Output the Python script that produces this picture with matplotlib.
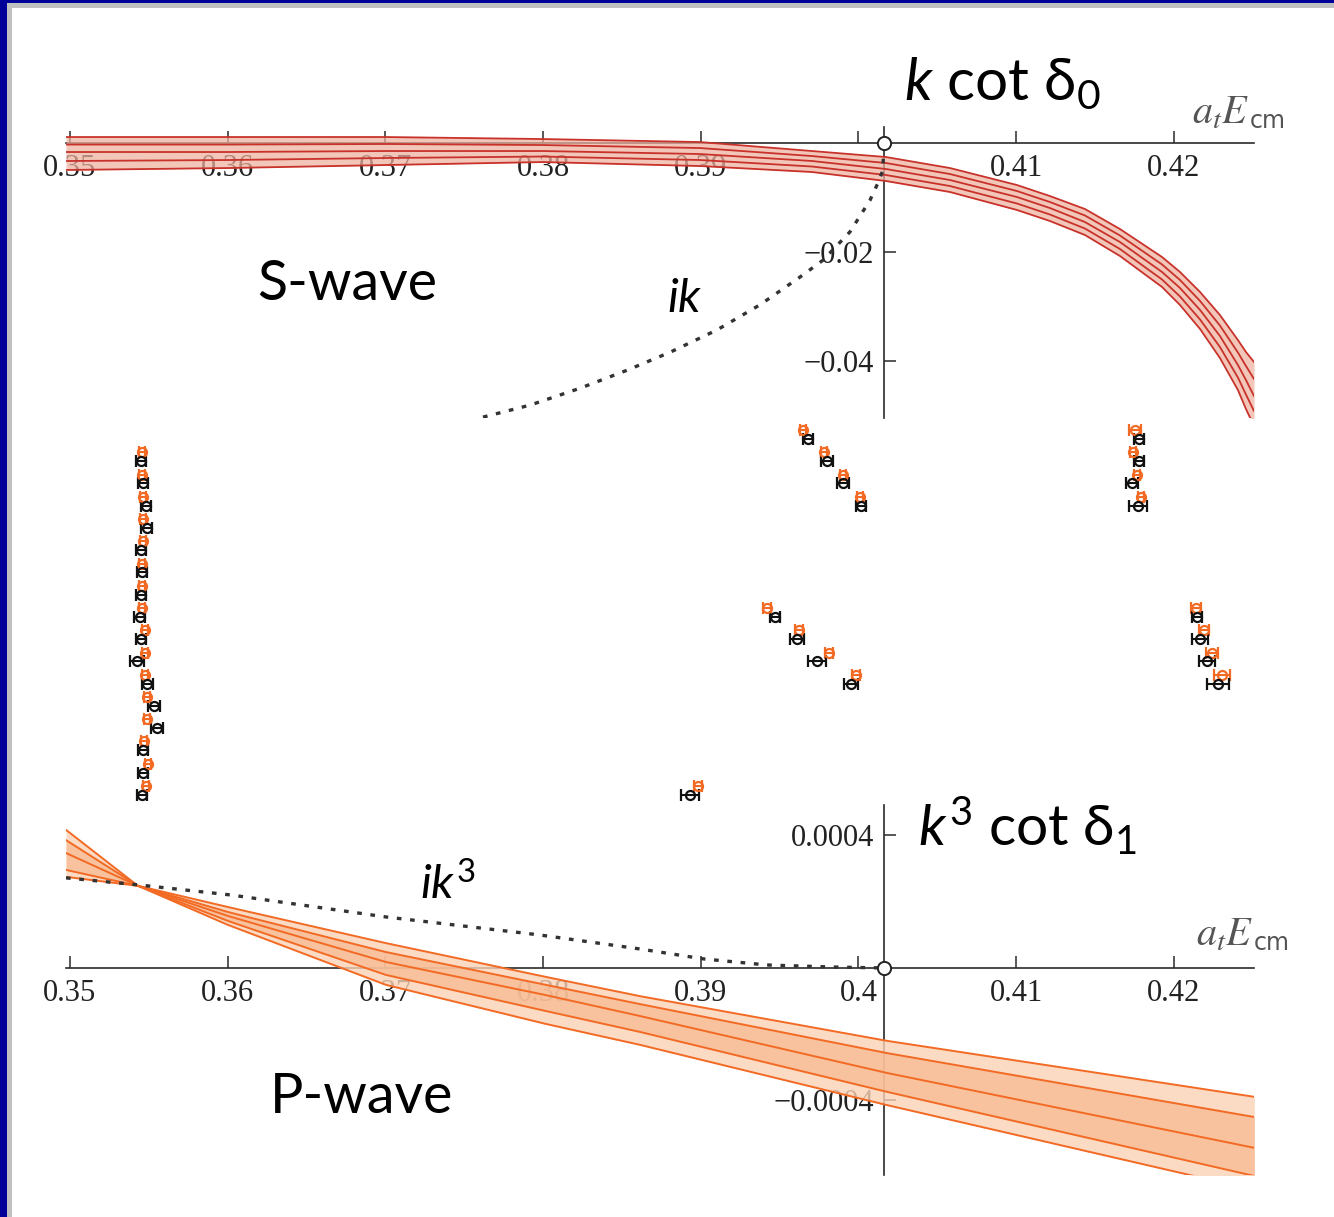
import numpy as np
import matplotlib
matplotlib.use("Agg")
import matplotlib.pyplot as plt
from matplotlib.patches import Rectangle

plt.rcParams['font.family'] = ['Liberation Serif', 'DejaVu Serif']
plt.rcParams['mathtext.fontset'] = 'custom'
plt.rcParams['mathtext.rm'] = 'Lato'
plt.rcParams['mathtext.it'] = 'Lato:italic'
plt.rcParams['mathtext.fallback'] = 'stixsans'

# ---- data ----
e_threshold = 0.4016
x_ticks = [0.35, 0.36, 0.37, 0.38, 0.39, 0.40, 0.41, 0.42]
x_labels_s = ['0.35', '0.36', '0.37', '0.38', '0.39', '', '0.41', '0.42']
x_labels_p = ['0.35', '0.36', '0.37', '0.38', '0.39', '0.4', '0.41', '0.42']
s_yticks = [-0.02, -0.04]
s_ylabels = ['\u22120.02', '\u22120.04']
p_yticks = [0.0004, -0.0004]
p_ylabels = ['0.0004', '\u22120.0004']

# S-wave k cot delta_0 band (five curves)
s_energy = [0.34975, 0.36002, 0.37004, 0.37999, 0.38995, 0.39705, 0.40174, 0.40580, 0.41005, 0.41214,
            0.41436, 0.41658, 0.41925, 0.42039, 0.42166, 0.42292, 0.42406, 0.42457, 0.42508]
s_edge_hi = [0.00110, 0.00110, 0.00110, 0.00073, 0.00018, -0.00147, -0.00257, -0.00459, -0.00771, -0.00973,
             -0.01211, -0.01578, -0.02092, -0.02367, -0.02734, -0.03156, -0.03615, -0.03835, -0.04018]
s_inner_hi = [-0.00028, -0.00028, -0.00018, -0.00037, -0.00092, -0.00239, -0.00367, -0.00569, -0.00881, -0.01083,
              -0.01330, -0.01697, -0.02229, -0.02514, -0.02899, -0.03349, -0.03844, -0.04092, -0.04330]
s_center = [-0.00165, -0.00165, -0.00147, -0.00147, -0.00202, -0.00330, -0.00477, -0.00679, -0.00991, -0.01193,
            -0.01450, -0.01817, -0.02367, -0.02661, -0.03064, -0.03541, -0.04073, -0.04349, -0.04642]
s_inner_lo = [-0.00330, -0.00312, -0.00275, -0.00248, -0.00312, -0.00431, -0.00587, -0.00789, -0.01110, -0.01312,
              -0.01569, -0.01945, -0.02505, -0.02817, -0.03239, -0.03743, -0.04303, -0.04615, -0.04918]
s_edge_lo = [-0.00495, -0.00459, -0.00404, -0.00349, -0.00422, -0.00532, -0.00697, -0.00899, -0.01229, -0.01431,
             -0.01688, -0.02073, -0.02642, -0.02973, -0.03413, -0.03945, -0.04532, -0.04881, -0.05193]

# ik below threshold
ik_energy = [0.37619, 0.37917, 0.38234, 0.38532, 0.38805, 0.39103, 0.39375, 0.39629, 0.39775, 0.39946,
             0.40073, 0.40124, 0.40155, 0.4016]
ik_value = [-0.0503, -0.0481, -0.0450, -0.0417, -0.0384, -0.0343, -0.0297, -0.0246, -0.0215, -0.0163,
            -0.0105, -0.0073, -0.0050, 0.0]

# P-wave k^3 cot delta_1 band
p_energy = [0.34975, 0.35431, 0.36002, 0.37004, 0.38018, 0.38614, 0.40181, 0.4251]
p_edge_hi = [2.75e-4, 2.48e-4, 1.84e-4, 7.5e-5, -2.7e-5, -8.5e-5, -2.20e-4, -3.89e-4]
p_inner_hi = [2.96e-4, 2.48e-4, 1.69e-4, 4.8e-5, -5.1e-5, -1.09e-4, -2.57e-4, -4.50e-4]
p_center = [3.47e-4, 2.48e-4, 1.57e-4, 1.8e-5, -8.2e-5, -1.45e-4, -3.17e-4, -5.43e-4]
p_inner_lo = [3.86e-4, 2.48e-4, 1.42e-4, -2.1e-5, -1.30e-4, -1.93e-4, -3.74e-4, -6.28e-4]
p_edge_lo = [4.17e-4, 2.48e-4, 1.30e-4, -5.1e-5, -1.69e-4, -2.32e-4, -4.14e-4, -6.70e-4]

# ik^3 below threshold
ik3_energy = [0.34975, 0.35431, 0.36027, 0.37004, 0.3798, 0.38614, 0.3902, 0.3942, 0.39826, 0.4016]
ik3_value = [0.000272, 0.000251, 0.00022, 0.000154, 0.0000996, 0.0000574, 0.0000272, 0.000009, 0.000003, 0.0]

# finite-volume levels: row index, lattice energy (black) and fit (orange)
lvl_row = [1, 2, 3, 4, 5, 6, 7, 8, 9, 10, 11, 12, 13, 14, 15, 16,
           0, 1, 2, 3,
           8, 9, 10, 11,
           0, 1, 2, 3,
           8, 9, 10, 11,
           16]
lvl_energy = [0.35448, 0.35465, 0.35482, 0.35486, 0.35448, 0.35455, 0.35448, 0.35444,
              0.35448, 0.35427, 0.35490, 0.35533, 0.35550, 0.35461, 0.35465, 0.35455,
              0.39680, 0.39800, 0.39902, 0.40016,
              0.39471, 0.39610, 0.39737, 0.39952,
              0.41779, 0.41779, 0.41734, 0.41772,
              0.42147, 0.42166, 0.42210, 0.42280,
              0.38931]
lvl_err = [0.00032, 0.00032, 0.00032, 0.00035, 0.00032, 0.00032, 0.00032, 0.00035,
           0.00032, 0.00045, 0.00035, 0.00038, 0.00038, 0.00032, 0.00032, 0.00032,
           0.00032, 0.00038, 0.00038, 0.00032,
           0.00032, 0.00044, 0.00057, 0.00044,
           0.00032, 0.00032, 0.00038, 0.00057,
           0.00032, 0.00051, 0.00051, 0.0007,
           0.00057]
fit_energy = [0.35455, 0.35455, 0.35461, 0.35461, 0.35461, 0.35455, 0.35455, 0.35455,
              0.35476, 0.35476, 0.35476, 0.35486, 0.35490, 0.35469, 0.35497, 0.35482,
              0.39648, 0.39781, 0.39902, 0.40009,
              0.39420, 0.39623, 0.39813, 0.39984,
              0.41753, 0.41741, 0.41766, 0.41791,
              0.42140, 0.42191, 0.42242, 0.42305,
              0.38982]
fit_err = [0.00019] * 16 + [0.00019] * 4 + [0.00025] * 4 + [0.00038, 0.00019, 0.00019, 0.00019] + \
          [0.00032, 0.00032, 0.00038, 0.00051] + [0.00025]

# ---- figure ----
W, H = 1334, 1217
fig = plt.figure(figsize=(W / 100, H / 100), dpi=100)


def box(x0, y0, x1, y1):
    return [x0 / W, 1 - y1 / H, (x1 - x0) / W, (y1 - y0) / H]


axis_col = '#2a2a2a'


def style_axes(ax, ylim, yticks, ylabels, xlabels):
    ax.set_xlim(0.34975, 0.42508)
    ax.set_ylim(*ylim)
    ax.patch.set_alpha(0)
    ax.set_axisbelow(True)
    for s in ['top', 'right']:
        ax.spines[s].set_visible(False)
    ax.spines['bottom'].set_position(('data', 0))
    ax.spines['left'].set_position(('data', e_threshold))
    for s in ['bottom', 'left']:
        ax.spines[s].set_color(axis_col)
        ax.spines[s].set_linewidth(1.2)
        ax.spines[s].set_zorder(0.6)
    ax.set_xticks(x_ticks)
    ax.set_xticklabels(xlabels)
    ax.set_yticks(yticks)
    ax.set_yticklabels(ylabels)
    ax.tick_params(axis='both', direction='in', length=8.5, width=1.1, colors=axis_col,
                   labelsize=22, labelcolor='#222222')
    ax.tick_params(axis='x', pad=8)
    ax.tick_params(axis='y', pad=7)
    ax.plot([e_threshold], [0], 'o', ms=9.5, mfc='white', mec='#222222', mew=1.4,
            clip_on=False, zorder=6)


dots = dict(color='#333333', lw=2.4, ls=(0, (1.4, 2.6)), zorder=4)

# S-wave panel
ax_s = fig.add_axes(box(66, 127, 1254, 418))
style_axes(ax_s, (-0.05046, 0.00294), s_yticks, s_ylabels, x_labels_s)
ax_s.fill_between(s_energy, s_edge_lo, s_edge_hi, color='#eeb19e', alpha=0.72, lw=0, zorder=2)
for curve in [s_edge_hi, s_inner_hi, s_center, s_inner_lo, s_edge_lo]:
    ax_s.plot(s_energy, curve, color='#c8322a', lw=1.3, zorder=3)
ax_s.plot(ik_energy, ik_value, **dots)

# P-wave panel
ax_p = fig.add_axes(box(66, 805, 1254, 1175))
style_axes(ax_p, (-0.000625, 0.000492), p_yticks, p_ylabels, x_labels_p)
ax_p.fill_between(p_energy, p_edge_lo, p_edge_hi, color='#fbd2b6', alpha=0.8, lw=0, zorder=2)
ax_p.fill_between(p_energy, p_inner_lo, p_inner_hi, color='#f8b88e', alpha=0.7, lw=0, zorder=2)
for curve in [p_edge_hi, p_inner_hi, p_center, p_inner_lo, p_edge_lo]:
    ax_p.plot(p_energy, curve, color='#f26a24', lw=1.4, zorder=3)
ax_p.plot(ik3_energy, ik3_value, **dots)

# finite-volume spectrum in the middle
ax_m = fig.add_axes(box(66, 419, 1254, 806))
ax_m.set_xlim(0.34975, 0.42508)
ax_m.set_ylim(16.5, -0.9)
ax_m.axis('off')
fit_row = [r - 0.4 for r in lvl_row]
ax_m.errorbar(fit_energy, fit_row, xerr=fit_err, fmt='o', ms=6.5, mfc='none', mec='#f26a24',
              mew=1.6, ecolor='#f26a24', elinewidth=1.5, capsize=4.2, capthick=1.5)
ax_m.errorbar(lvl_energy, lvl_row, xerr=lvl_err, fmt='o', ms=6.5, mfc='none', mec='#111111',
              mew=1.6, ecolor='#111111', elinewidth=1.5, capsize=4.5, capthick=1.5)


# labels
def fig_text(x, y, s, **kw):
    fig.text(x / W, 1 - y / H, s, va='baseline', ha='left', **kw)


sans = ['Lato', 'DejaVu Sans']
fig_text(904, 100, r'$k$ cot $\mathrm{\delta}_0$', fontsize=42, family=sans)
fig_text(918, 845, r'$k^3$ cot $\mathrm{\delta}_1$', fontsize=41, family=sans)
fig_text(257, 300, 'S-wave', fontsize=40, family=sans)
fig_text(270, 1113, 'P-wave', fontsize=40, family=sans)
fig_text(667, 312, r'$ik$', fontsize=34, family=sans)
fig_text(420, 899, r'$ik^3$', fontsize=34, family=sans)
for (x, y) in [(1192, 124), (1196, 946)]:
    fig_text(x, y, r'$a_tE$', fontsize=29, color='#555555', math_fontfamily='stix')
    fig_text(x + 58, y + 4, 'cm', fontsize=17, color='#555555', family='DejaVu Sans')

# slide frame (top and left edges)
frame = [((0, 1 - 3 / H), 1, 3 / H, '#000099'),
         ((7 / W, 1 - 8 / H), 1, 5 / H, '#c0c0c0'),
         ((0, 0), 7 / W, 1, '#000099'),
         ((7 / W, 0), 5 / W, 1 - 3 / H, '#c0c0c0')]
for xy, w, h, c in frame:
    fig.add_artist(Rectangle(xy, w, h, transform=fig.transFigure, color=c, lw=0, zorder=10))

fig.savefig('out.png', dpi=100, facecolor='white')
